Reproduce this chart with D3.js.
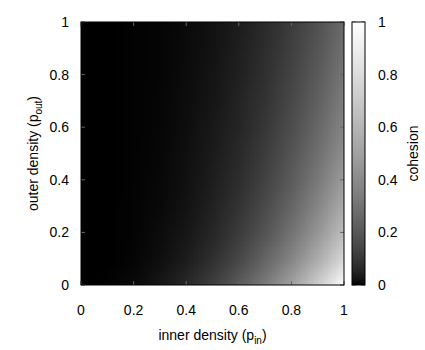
<!DOCTYPE html>
<html>
<head>
<meta charset="utf-8">
<script src="https://cdn.jsdelivr.net/npm/d3@7"></script>
<style>
  html, body { margin: 0; padding: 0; background: #fff; }
  svg { display: block; }
  text { font-family: "Liberation Sans", Arial, sans-serif; fill: #000; }
</style>
</head>
<body>
<svg width="425" height="350"></svg>
<script>
(function (d3) {
  'use strict';

  // grid: columns = inner density, rows = outer density
  const pinValues = [0, 0.1, 0.2, 0.3, 0.4, 0.5, 0.6, 0.7, 0.8, 0.9, 1];
  const poutValues = [0, 0.1, 0.2, 0.3, 0.4, 0.5, 0.6, 0.7, 0.8, 0.9, 1];
  const cohesion = [
    [0, 0.001, 0.008, 0.027, 0.064, 0.125, 0.216, 0.343, 0.512, 0.729, 1.000],
    [0, 0.000, 0.003, 0.014, 0.038, 0.081, 0.149, 0.248, 0.383, 0.561, 0.787],
    [0, 0.000, 0.002, 0.010, 0.027, 0.060, 0.114, 0.194, 0.306, 0.456, 0.649],
    [0, 0.000, 0.002, 0.007, 0.021, 0.048, 0.092, 0.159, 0.254, 0.384, 0.553],
    [0, 0.000, 0.001, 0.006, 0.017, 0.040, 0.077, 0.135, 0.218, 0.331, 0.481],
    [0, 0.000, 0.001, 0.005, 0.015, 0.034, 0.067, 0.117, 0.191, 0.292, 0.426],
    [0, 0.000, 0.001, 0.004, 0.013, 0.030, 0.058, 0.104, 0.169, 0.260, 0.382],
    [0, 0.000, 0.001, 0.004, 0.011, 0.026, 0.052, 0.093, 0.152, 0.235, 0.346],
    [0, 0.000, 0.001, 0.003, 0.010, 0.024, 0.047, 0.084, 0.138, 0.214, 0.317],
    [0, 0.000, 0.001, 0.003, 0.009, 0.021, 0.043, 0.077, 0.127, 0.197, 0.292],
    [0, 0.000, 0.001, 0.003, 0.008, 0.020, 0.039, 0.071, 0.117, 0.182, 0.270]
  ];
  const tickValues = [0, 0.2, 0.4, 0.6, 0.8, 1];
  const tickLabels = ['0', '0.2', '0.4', '0.6', '0.8', '1'];

  const svg = d3.select('svg');
  const plot = { left: 81, right: 344, top: 22, bottom: 285 };
  const bar = { left: 352, right: 365 };

  const x = d3.scaleLinear().domain([0, 1]).range([plot.left, plot.right]);
  const y = d3.scaleLinear().domain([0, 1]).range([plot.bottom, plot.top]);
  // gnuplot-like gray palette (gamma 1.5)
  const grayLevel = d3.scalePow().exponent(1 / 1.5).domain([0, 1]).range([0, 255]).clamp(true);
  const color = v => { const g = Math.round(grayLevel(v)); return d3.rgb(g, g, g).toString(); };

  const defs = svg.append('defs');
  defs.append('clipPath').attr('id', 'plotClip')
    .append('rect')
      .attr('x', plot.left).attr('y', plot.top)
      .attr('width', plot.right - plot.left).attr('height', plot.bottom - plot.top);

  const grad = defs.append('linearGradient').attr('id', 'cbGrad')
      .attr('x1', 0).attr('y1', 1).attr('x2', 0).attr('y2', 0);
  grad.selectAll('stop').data(d3.range(0, 1.0001, 0.025))
    .enter().append('stop')
      .attr('offset', d => d)
      .attr('stop-color', d => color(d));

  // heat map: one pixel per grid value, scaled up smoothly by the browser
  const n = pinValues.length, m = poutValues.length;
  const cnv = document.createElement('canvas');
  cnv.width = n; cnv.height = m;
  const ctx = cnv.getContext('2d');
  const img = ctx.createImageData(n, m);
  cohesion.forEach((row, j) => row.forEach((v, i) => {
    const c = d3.rgb(color(v));
    const k = ((m - 1 - j) * n + i) * 4;
    img.data[k] = c.r; img.data[k + 1] = c.g; img.data[k + 2] = c.b; img.data[k + 3] = 255;
  }));
  ctx.putImageData(img, 0, 0);

  const dx = x(pinValues[1]) - x(pinValues[0]);
  const dy = y(poutValues[0]) - y(poutValues[1]);
  svg.append('g').attr('clip-path', 'url(#plotClip)')
    .append('image')
      .attr('x', x(pinValues[0]) - dx / 2)
      .attr('y', y(poutValues[m - 1]) - dy / 2)
      .attr('width', n * dx)
      .attr('height', m * dy)
      .attr('preserveAspectRatio', 'none')
      .attr('href', cnv.toDataURL());

  // ticks (inward, mirrored)
  const tickLen = 4;
  const ticks = svg.append('g').attr('stroke', '#666').attr('stroke-width', 1);
  tickValues.forEach(t => {
    ticks.append('line').attr('x1', x(t)).attr('x2', x(t)).attr('y1', plot.bottom).attr('y2', plot.bottom - tickLen);
    ticks.append('line').attr('x1', x(t)).attr('x2', x(t)).attr('y1', plot.top).attr('y2', plot.top + tickLen);
    ticks.append('line').attr('y1', y(t)).attr('y2', y(t)).attr('x1', plot.left).attr('x2', plot.left + tickLen);
    ticks.append('line').attr('y1', y(t)).attr('y2', y(t)).attr('x1', plot.right).attr('x2', plot.right - tickLen);
    ticks.append('line').attr('y1', y(t)).attr('y2', y(t)).attr('x1', bar.left).attr('x2', bar.left + tickLen);
    ticks.append('line').attr('y1', y(t)).attr('y2', y(t)).attr('x1', bar.right).attr('x2', bar.right - tickLen);
  });

  svg.append('rect')
      .attr('x', plot.left).attr('y', plot.top)
      .attr('width', plot.right - plot.left).attr('height', plot.bottom - plot.top)
      .attr('fill', 'none').attr('stroke', '#000').attr('stroke-width', 1);

  // colour box
  svg.append('rect')
      .attr('x', bar.left).attr('y', plot.top)
      .attr('width', bar.right - bar.left).attr('height', plot.bottom - plot.top)
      .attr('fill', 'url(#cbGrad)').attr('stroke', '#000').attr('stroke-width', 1);

  // tick labels
  svg.append('g').selectAll('text').data(tickValues)
    .enter().append('text')
      .attr('x', d => x(d)).attr('y', 315)
      .attr('text-anchor', 'middle').attr('font-size', 14)
      .text((d, i) => tickLabels[i]);

  svg.append('g').selectAll('text').data(tickValues)
    .enter().append('text')
      .attr('x', 69).attr('y', d => y(d)).attr('dy', '0.36em')
      .attr('text-anchor', 'end').attr('font-size', 14)
      .text((d, i) => tickLabels[i]);

  svg.append('g').selectAll('text').data(tickValues)
    .enter().append('text')
      .attr('x', 378).attr('y', d => y(d)).attr('dy', '0.36em')
      .attr('text-anchor', 'start').attr('font-size', 14)
      .text((d, i) => tickLabels[i]);

  // axis titles
  const xt = svg.append('text')
      .attr('x', (plot.left + plot.right) / 2).attr('y', 340)
      .attr('text-anchor', 'middle').attr('font-size', 14);
  xt.append('tspan').text('inner density (p');
  xt.append('tspan').attr('font-size', 10).attr('dy', 4).text('in');
  xt.append('tspan').attr('dy', -4).text(')');

  const yt = svg.append('text')
      .attr('transform', `translate(38,${(plot.top + plot.bottom) / 2}) rotate(-90)`)
      .attr('text-anchor', 'middle').attr('font-size', 14);
  yt.append('tspan').text('outer density (p');
  yt.append('tspan').attr('font-size', 10).attr('dy', 4).text('out');
  yt.append('tspan').attr('dy', -4).text(')');

  svg.append('text')
      .attr('transform', `translate(418,${(plot.top + plot.bottom) / 2}) rotate(-90)`)
      .attr('text-anchor', 'middle').attr('font-size', 14)
      .text('cohesion');

}(d3));
</script>
</body>
</html>
